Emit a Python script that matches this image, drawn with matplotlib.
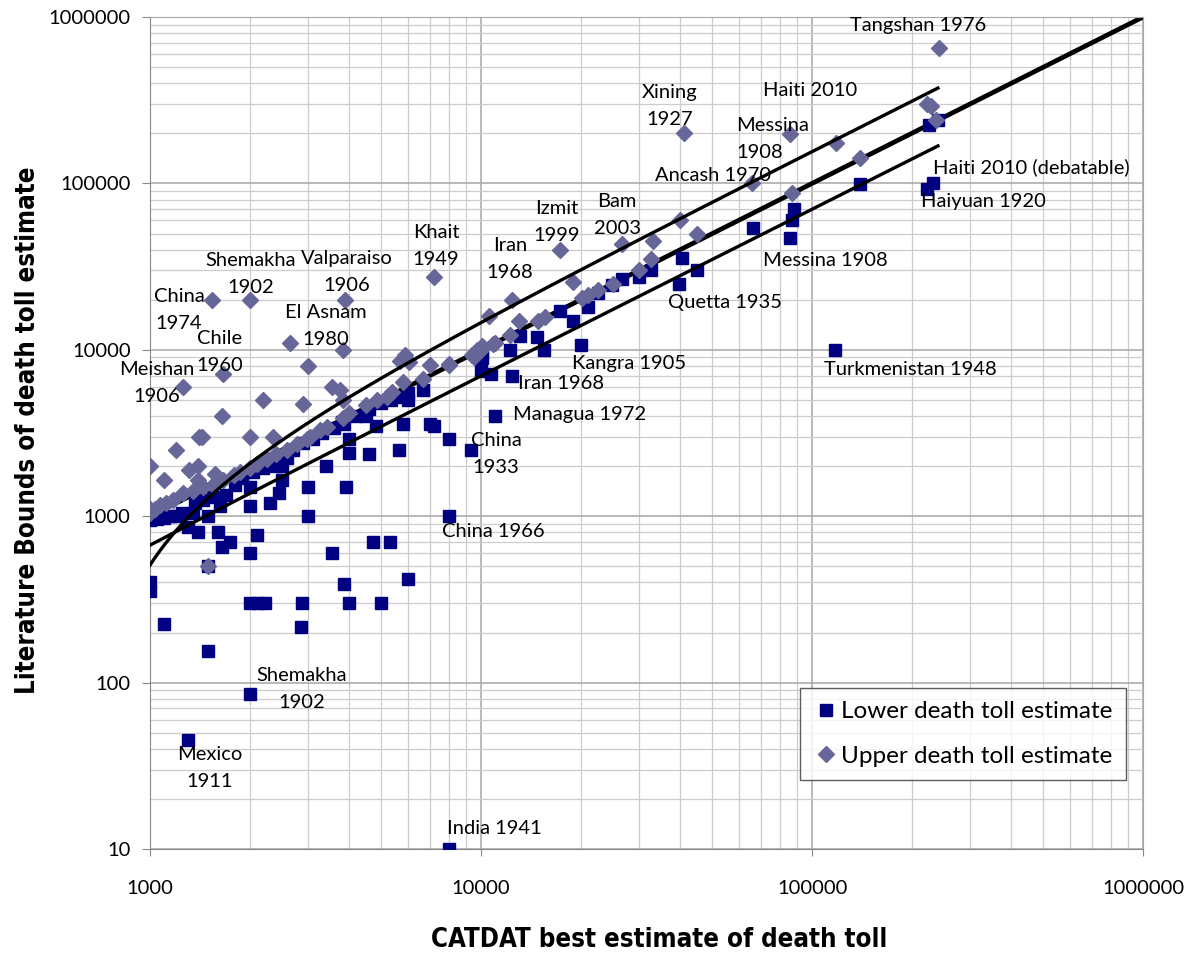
import matplotlib
matplotlib.use('Agg')
import matplotlib.pyplot as plt
import numpy as np
from matplotlib.ticker import LogLocator, FuncFormatter, NullFormatter

# lower bound of the literature death toll vs CATDAT best estimate
low_best = [8000, 1300, 2000, 1500, 1100, 1000, 1000, 2000, 2120, 2230, 2880, 2850,
            3850, 4000, 5000, 6000, 3550, 2000, 4700, 5300, 8000, 1650, 1750, 2100,
            1400, 1600, 1300, 1500, 3000, 2000, 2000, 2300, 2450, 2500, 3000, 3900,
            3400, 2500, 4000, 4000, 4600, 5650, 4800, 5800, 7000, 7200, 8000, 9300,
            11000, 4500, 3850, 6000, 6000, 5350, 6700, 10000, 10700, 12400, 10100,
            12200, 15500, 20000, 13100, 14800, 17300, 19000, 21000, 22600, 24800,
            26600, 30000, 32600, 40500, 39500, 44800, 66500, 88000, 87000, 86000,
            140000, 222000, 232000, 225000, 240000, 117000,
            1000, 1000, 1050, 1100, 1150, 1200, 1250, 1350, 1370, 1450, 1500, 1550,
            1630, 1700, 1800, 1900, 2050, 2200, 2400, 2600, 2700, 2900, 3100, 3300,
            3600, 3800, 4200, 4600, 5000, 5500, 10100]
low_bound = [10, 45, 86, 155, 225, 400, 355, 300, 300, 300, 300, 215,
             390, 300, 300, 420, 600, 600, 700, 700, 1000, 650, 700, 770,
             800, 800, 860, 500, 1000, 1150, 1500, 1200, 1370, 1650, 1500, 1500,
             2000, 2000, 2400, 2900, 2350, 2500, 3500, 3600, 3600, 3500, 2900, 2500,
             4000, 4000, 3600, 5000, 5500, 5000, 5700, 7500, 7200, 7000, 8900,
             10000, 10000, 10700, 12100, 12000, 17000, 15000, 18000, 22000, 24500,
             26500, 27500, 30000, 35500, 25000, 30000, 54000, 70000, 60000, 47000,
             99000, 92000, 100000, 225000, 240000, 10000,
             950, 1000, 960, 970, 1000, 1000, 1050, 1040, 1200, 1250, 1000, 1300,
             1150, 1350, 1550, 1700, 1850, 1950, 2000, 2250, 2500, 2750, 2900, 3150,
             3400, 3700, 4000, 4400, 4800, 5200, 9500]

# upper bound of the literature death toll vs CATDAT best estimate
up_best = [242000, 41000, 86000, 118000, 140000, 223000, 229000, 237000, 66000, 87000,
           45000, 40000, 26600, 33000, 32500, 30000, 25000, 22600, 21000, 20200, 19000,
           17300, 12400, 10600, 15600, 14900, 13000, 12200, 11000, 10100, 10000, 9400,
           9700, 7200, 8000, 7000, 6700, 5900, 6050, 5700, 5800,
           3880, 3830, 2650, 3000, 3550, 3750, 3830, 2900, 2200, 1650, 1660, 1260,
           1540, 2000, 1000, 1100, 1200, 1310, 1410, 1440, 1400, 1400, 1570, 2000,
           2360, 1500,
           1000, 1000, 1035, 1070, 1120, 1175, 1260, 1350, 1450, 1550, 1660, 1790,
           1870, 2000, 2100, 2250, 2400, 2600, 2780, 2980, 3050, 3260, 3420, 3830,
           4000, 4500, 4850, 5200, 5380, 8000, 9500, 10900]
up_bound = [655000, 200000, 198000, 175000, 142000, 302000, 290000, 242000, 100000, 88000,
            50000, 60000, 43000, 45000, 35000, 30000, 25000, 23000, 21300, 20500, 25500,
            40000, 20000, 16000, 15800, 14800, 15000, 12300, 11000, 10500, 10000, 9300,
            10000, 27500, 8100, 8100, 6700, 9300, 8500, 8600, 6400,
            20000, 10000, 11000, 8000, 6000, 5700, 5000, 4700, 5000, 4000, 7200, 6000,
            20000, 20000, 2000, 1650, 2500, 1900, 3000, 3000, 2000, 1650, 1800, 3000,
            3000, 500,
            1050, 1100, 1100, 1160, 1200, 1260, 1370, 1420, 1500, 1550, 1650, 1760,
            1850, 1950, 2050, 2200, 2350, 2500, 2700, 2900, 3000, 3300, 3450, 3900,
            4200, 4650, 5000, 5200, 5600, 8200, 9100, 10900]

# linear fits y = a*x + b through the two bounds, and the 1:1 line
upper_fit = (1.563, -1054)
lower_fit = (0.700, -30)
fit_x = (1000, 240000)
one_to_one = (1000, 1000000)

# event labels: text, x, y, horizontal alignment
labels = [
    ("Tangshan 1976", 209000, 895000, "center"),
    ("Xining\n1927", 37240, 292000, "center"),
    ("Haiti 2010", 98600, 364000, "center"),
    ("Messina\n1908", 58950, 185000, "left"),
    ("Ancash 1970", 50200, 112300, "center"),
    ("Haiti 2010 (debatable)", 458800, 125500, "center"),
    ("Haiyuan 1920", 328600, 78400, "center"),
    ("Bam\n2003", 25750, 64600, "center"),
    ("Izmit\n1999", 16970, 58650, "center"),
    ("Iran\n1968", 12240, 35130, "center"),
    ("Khait\n1949", 7314, 42060, "center"),
    ("Messina 1908", 109500, 34650, "center"),
    ("Quetta 1935", 54600, 19380, "center"),
    ("Kangra 1905", 28000, 8330, "center"),
    ("Iran 1968", 17450, 6318, "center"),
    ("Managua 1972", 19910, 4113, "center"),
    ("China\n1933", 11100, 2366, "center"),
    ("China 1966", 10870, 815, "center"),
    ("Turkmenistan 1948", 197700, 7665, "center"),
    ("India 1941", 10950, 13.2, "center"),
    ("Mexico\n1911", 1518, 30.7, "center"),
    ("Shemakha\n1902", 2879, 91.5, "center"),
    ("Shemakha\n1902", 2019, 28540, "center"),
    ("Valparaiso\n1906", 3938, 29350, "center"),
    ("El Asnam\n1980", 3400, 13900, "center"),
    ("China\n1974", 1224, 17350, "center"),
    ("Chile\n1960", 1627, 9700, "center"),
    ("Meishan\n1906", 1050, 6318, "center"),
]

plt.rcParams['font.family'] = ['Lato', 'DejaVu Sans']
fig = plt.figure(figsize=(11.88, 9.56), dpi=100)
ax = fig.add_axes([0.1263, 0.1119, 0.8359, 0.8703])

ax.set_xscale('log')
ax.set_yscale('log')
ax.set_xlim(1000, 1000000)
ax.set_ylim(10, 1000000)

ax.grid(which='major', color='#a6a6a6', lw=1.1, zorder=0)
ax.grid(which='minor', color='#cccccc', lw=0.9, zorder=0)
ax.set_axisbelow(True)
ax.xaxis.set_minor_locator(LogLocator(base=10, subs=np.arange(2, 10)))
ax.yaxis.set_minor_locator(LogLocator(base=10, subs=np.arange(2, 10)))
ax.xaxis.set_minor_formatter(NullFormatter())
ax.yaxis.set_minor_formatter(NullFormatter())
intfmt = FuncFormatter(lambda v, p: '%d' % int(round(v)))
ax.xaxis.set_major_formatter(intfmt)
ax.yaxis.set_major_formatter(intfmt)
ax.tick_params(which='minor', length=0)
ax.tick_params(axis='y', which='major', length=6, color='#888888', labelsize=14.5, pad=8)
ax.tick_params(axis='x', which='major', length=5, color='#888888', labelsize=14.5, pad=17)
for s in ax.spines.values():
    s.set_color('#a6a6a6')
ax.spines['left'].set_color('#888888')
ax.spines['bottom'].set_color('#888888')

# 1:1 line
xx = np.array(one_to_one, dtype=float)
ax.plot(xx, xx, color='black', lw=3.4, zorder=2, solid_capstyle='butt')

ax.plot(low_best, low_bound, ls='none', marker='s', ms=8.6, color='#000080',
        mec='#000080', zorder=3, label='Lower death toll estimate')
ax.plot(up_best, up_bound, ls='none', marker='D', ms=8.2, color='#666699',
        mec='#666699', zorder=4, label='Upper death toll estimate')

xf = np.logspace(np.log10(fit_x[0]), np.log10(fit_x[1]), 300)
ax.plot(xf, upper_fit[0] * xf + upper_fit[1], color='black', lw=2.4, zorder=5)
ax.plot(xf, lower_fit[0] * xf + lower_fit[1], color='black', lw=2.4, zorder=5)

for text, x, y, ha in labels:
    ax.text(x, y, text, ha=ha, va='center', multialignment=ha, fontsize=14.5,
            linespacing=1.75, zorder=6)

leg = ax.legend(loc='lower right', bbox_to_anchor=(0.983, 0.083), fontsize=17.5,
                frameon=True, fancybox=False, borderpad=0.55, labelspacing=0.95,
                handletextpad=0.15, handlelength=1.0, borderaxespad=0)
leg.get_frame().set_edgecolor('#333333')
leg.get_frame().set_linewidth(1.0)

bold = dict(family=['DejaVu Sans'], stretch='condensed', weight='bold', fontsize=18.5)
fig.text(0.5547, 0.0167, 'CATDAT best estimate of death toll', ha='center', va='center', **bold)
fig.text(0.0236, 0.550, 'Literature Bounds of death toll estimate', ha='center', va='center',
         rotation=90, **bold)

fig.savefig('out.png', dpi=100)
